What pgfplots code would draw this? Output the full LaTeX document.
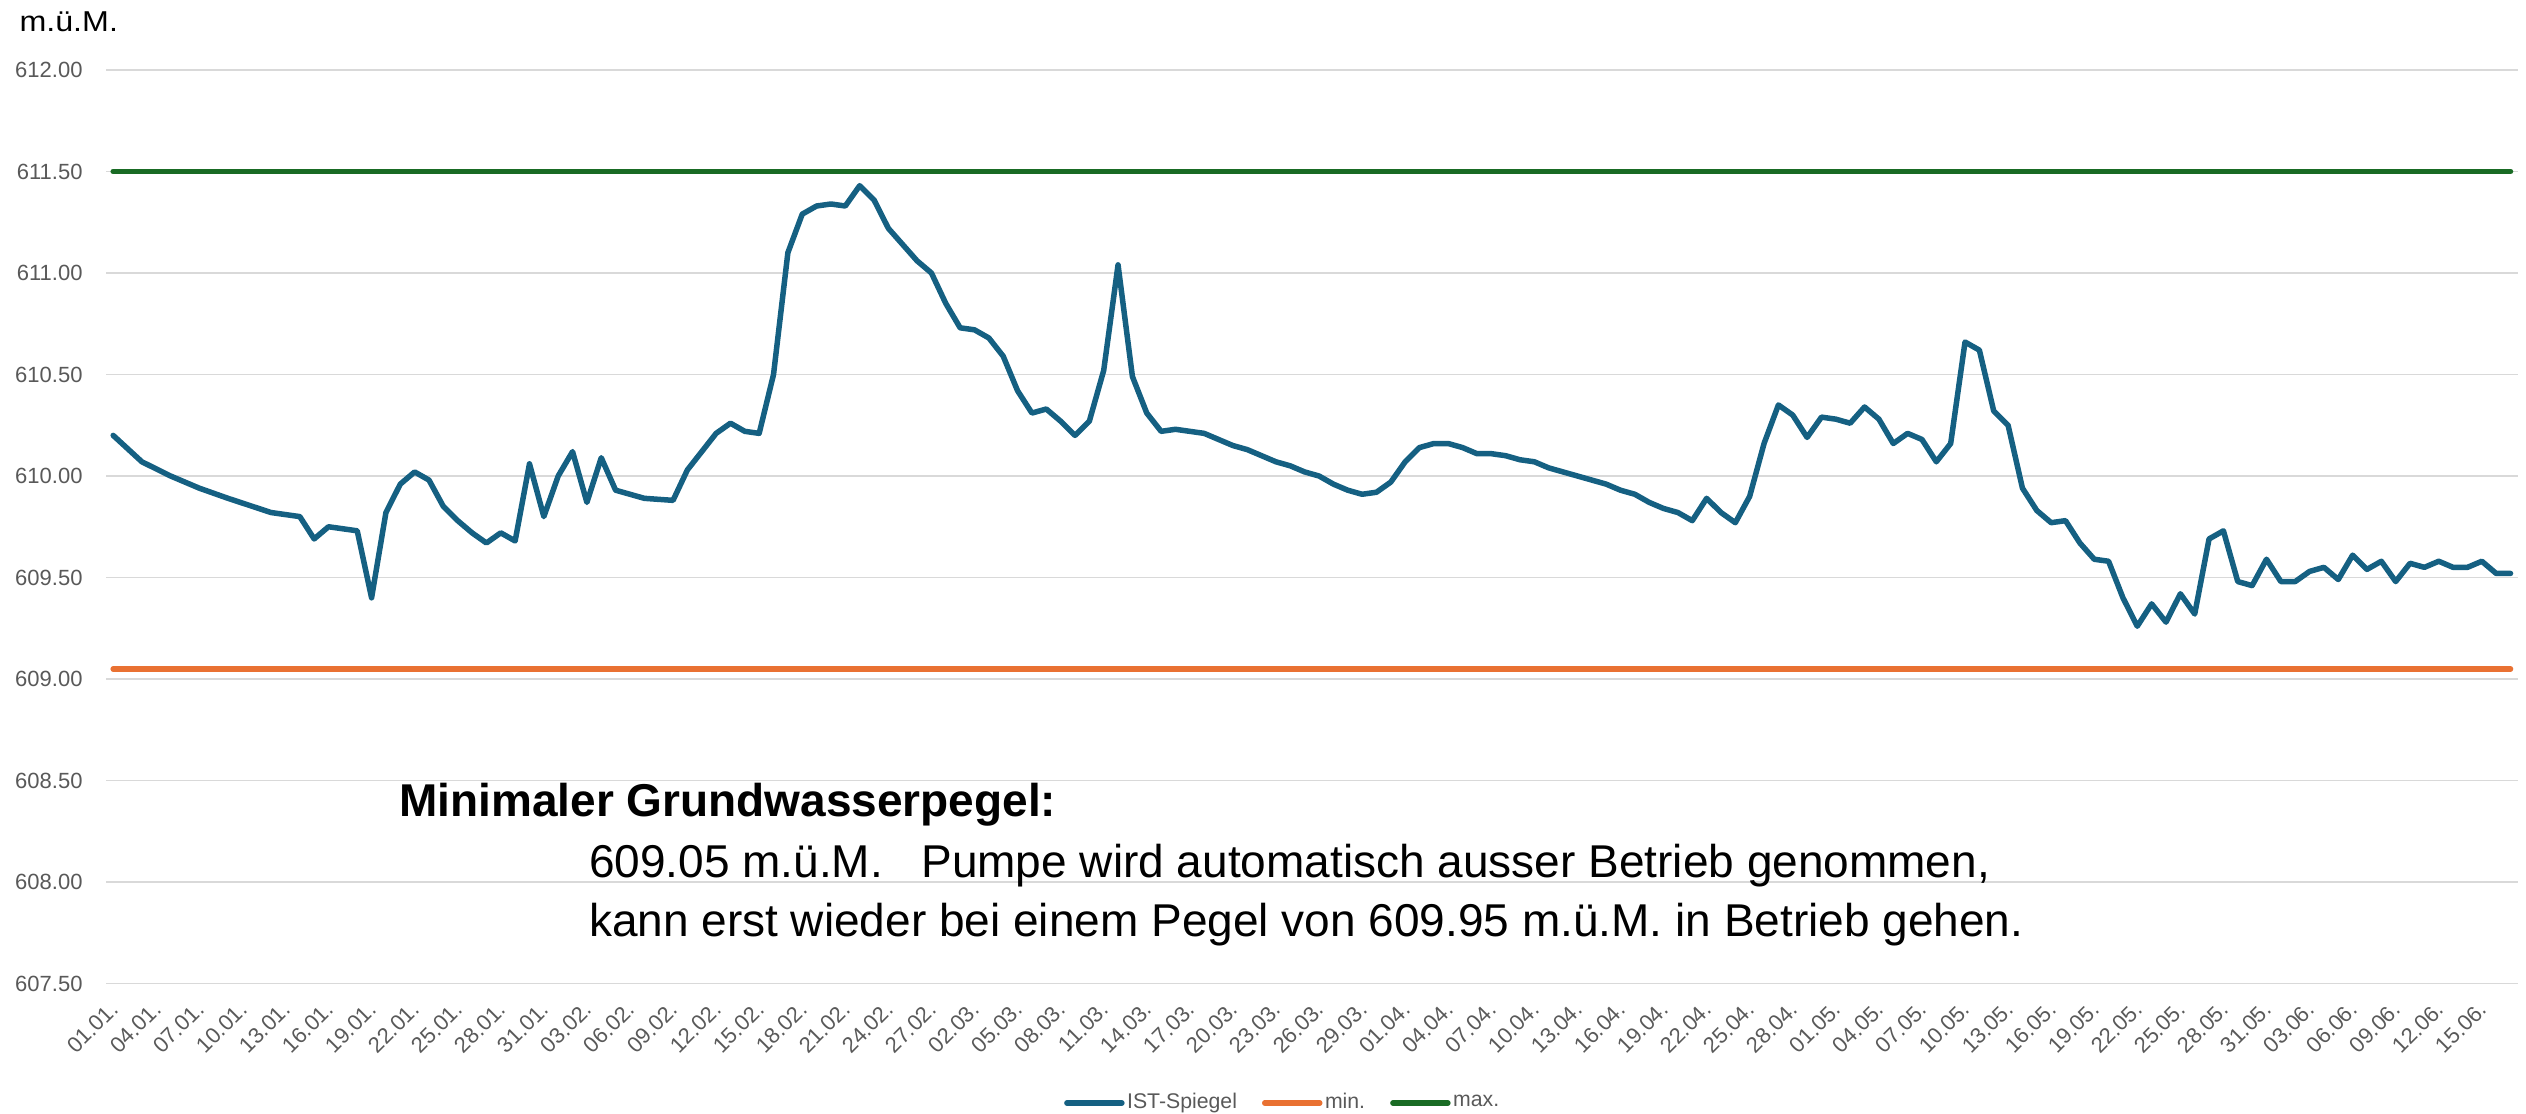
\documentclass[border=0pt]{standalone}
\usepackage{pgfplots}
\pgfplotsset{compat=1.18}
\usepackage{fontspec}
\setmainfont{Liberation Sans}
\definecolor{istblue}{HTML}{156082}
\definecolor{minorange}{HTML}{E97132}
\definecolor{maxgreen}{HTML}{196B24}
\definecolor{tickgrey}{HTML}{595959}
\definecolor{gridgrey}{HTML}{D9D9D9}
\begin{document}
\begin{tikzpicture}
\useasboundingbox (0,0) rectangle (1010.4pt,445.2pt);
\begin{axis}[
  at={(42.4pt,51.8pt)}, anchor=south west,
  scale only axis, width=964.68pt, height=365.4pt,
  xmin=-0.5, xmax=167.5, ymin=607.5, ymax=612,
  axis line style={draw=none},
  tick style={draw=none},
  ymajorgrids,
  grid style={color=gridgrey, line width=0.7pt},
  ytick={607.5,608,608.5,609,609.5,610,610.5,611,611.5,612},
  /pgf/number format/.cd, fixed, fixed zerofill, precision=2, assume math mode=true,
  /pgfplots/.cd,
  yticklabel style={font=\fontsize{8.8pt}{10pt}\selectfont, text=tickgrey, anchor=east, inner sep=0pt, xshift=-9.2pt},
  xtick={0,3,...,165},
  xticklabels={01.01.,04.01.,07.01.,10.01.,13.01.,16.01.,19.01.,22.01.,25.01.,28.01.,31.01.,03.02.,06.02.,09.02.,12.02.,15.02.,18.02.,21.02.,24.02.,27.02.,02.03.,05.03.,08.03.,11.03.,14.03.,17.03.,20.03.,23.03.,26.03.,29.03.,01.04.,04.04.,07.04.,10.04.,13.04.,16.04.,19.04.,22.04.,25.04.,28.04.,01.05.,04.05.,07.05.,10.05.,13.05.,16.05.,19.05.,22.05.,25.05.,28.05.,31.05.,03.06.,06.06.,09.06.,12.06.,15.06.},
  xticklabel style={font=\fontsize{8.8pt}{10pt}\selectfont, text=tickgrey, yshift=-8.8pt, xshift=0.5pt, rotate=45, anchor=east, inner sep=0pt},
  legend columns=3,
  legend style={at={(0.488,-0.1308)}, anchor=center, draw=none, fill=none,
    font=\fontsize{8.5pt}{9.5pt}\selectfont, text=tickgrey,
    /tikz/every even column/.append style={column sep=9pt},
    nodes={inner sep=1pt}},
  legend image code/.code={\draw[#1, line cap=round] (0pt,0pt) -- (22pt,0pt);},
]
\addplot[istblue, line width=2.2pt, line join=round, line cap=round] coordinates {
(0,610.20) (2,610.07) (4,610.00) (6,609.94) (8,609.89) (11,609.82) (13,609.80)
(14,609.69) (15,609.75) (16,609.74) (17,609.73) (18,609.40) (19,609.82) (20,609.96)
(21,610.02) (22,609.98) (23,609.85) (24,609.78) (25,609.72) (26,609.67) (27,609.72)
(28,609.68) (29,610.06) (30,609.80) (31,610.00) (32,610.12) (33,609.87) (34,610.09)
(35,609.93) (36,609.91) (37,609.89) (39,609.88) (40,610.03) (41,610.12) (42,610.21)
(43,610.26) (44,610.22) (45,610.21) (46,610.50) (47,611.10) (48,611.29) (49,611.33)
(50,611.34) (51,611.33) (52,611.43) (53,611.36) (54,611.22) (55,611.14) (56,611.06)
(57,611.00) (58,610.85) (59,610.73) (60,610.72) (61,610.68) (62,610.59) (63,610.42)
(64,610.31) (65,610.33) (66,610.27) (67,610.20) (68,610.27) (69,610.52) (70,611.04)
(71,610.49) (72,610.31) (73,610.22) (74,610.23) (75,610.22) (76,610.21) (77,610.18)
(78,610.15) (79,610.13) (80,610.10) (81,610.07) (82,610.05) (83,610.02) (84,610.00)
(85,609.96) (86,609.93) (87,609.91) (88,609.92) (89,609.97) (90,610.07) (91,610.14)
(92,610.16) (93,610.16) (94,610.14) (95,610.11) (96,610.11) (97,610.10) (98,610.08)
(99,610.07) (100,610.04) (101,610.02) (102,610.00) (103,609.98) (104,609.96) (105,609.93)
(106,609.91) (107,609.87) (108,609.84) (109,609.82) (110,609.78) (111,609.89) (112,609.82)
(113,609.77) (114,609.90) (115,610.16) (116,610.35) (117,610.30) (118,610.19) (119,610.29)
(120,610.28) (121,610.26) (122,610.34) (123,610.28) (124,610.16) (125,610.21) (126,610.18)
(127,610.07) (128,610.16) (129,610.66) (130,610.62) (131,610.32) (132,610.25) (133,609.94)
(134,609.83) (135,609.77) (136,609.78) (137,609.67) (138,609.59) (139,609.58) (140,609.40)
(141,609.26) (142,609.37) (143,609.28) (144,609.42) (145,609.32) (146,609.69) (147,609.73)
(148,609.48) (149,609.46) (150,609.59) (151,609.48) (152,609.48) (153,609.53) (154,609.55)
(155,609.49) (156,609.61) (157,609.54) (158,609.58) (159,609.48) (160,609.57) (161,609.55)
(162,609.58) (163,609.55) (164,609.55) (165,609.58) (166,609.52) (167,609.52)
};
\addlegendentry{IST-Spiegel}
\addplot[minorange, line width=2.2pt, line cap=round] coordinates {(0,609.05) (167,609.05)};
\addlegendentry{min.}
\addplot[maxgreen, line width=2.2pt, line cap=round] coordinates {(0,611.5) (167,611.5)};
\addlegendentry{max.}
\end{axis}
\node[anchor=base west, inner sep=0pt, xscale=1.12, font=\fontsize{11.5pt}{13pt}\selectfont] at (7.6pt,432.5pt) {m.ü.M.};
\node[anchor=base west, inner sep=0pt, font=\fontsize{18.4pt}{21pt}\selectfont\bfseries] at (159.5pt,118.5pt) {Minimaler Grundwasserpegel:};
\node[anchor=base west, inner sep=0pt, font=\fontsize{18.4pt}{21pt}\selectfont] at (235.4pt,94.3pt) {609.05 m.ü.M.\ \ \ Pumpe wird automatisch ausser Betrieb genommen,};
\node[anchor=base west, inner sep=0pt, font=\fontsize{18.4pt}{21pt}\selectfont] at (235.4pt,70.5pt) {kann erst wieder bei einem Pegel von 609.95 m.ü.M. in Betrieb gehen.};
\end{tikzpicture}
\end{document}
